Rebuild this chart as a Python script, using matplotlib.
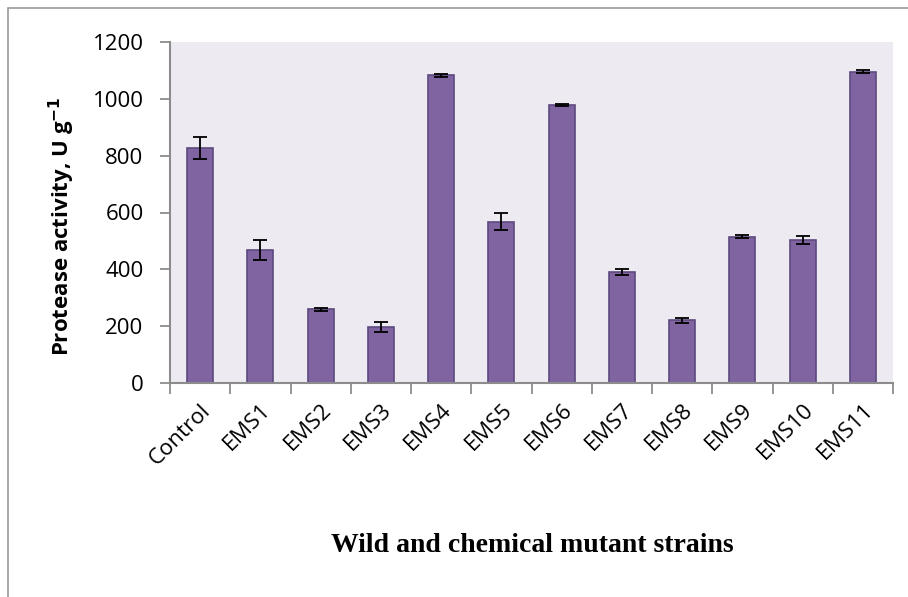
import numpy as np
import matplotlib.pyplot as plt
from matplotlib.patches import Rectangle

# data
strains = ["Control", "EMS1", "EMS2", "EMS3", "EMS4", "EMS5",
           "EMS6", "EMS7", "EMS8", "EMS9", "EMS10", "EMS11"]
activity = [828, 468, 260, 198, 1083, 567, 978, 390, 220, 515, 502, 1095]
errors = [39, 35, 5, 17, 6, 30, 4, 10, 8, 5, 14, 5]

fig = plt.figure(figsize=(9.08, 5.97), dpi=100)
fig.patch.set_facecolor("white")

# outer chart frame (only left/top visible in the reference)
fig.patches.append(Rectangle((8 / 908, -0.1), 1.2, 1 - 8 / 597 + 0.1,
                             transform=fig.transFigure, fill=False,
                             edgecolor="#9a9a9a", linewidth=1.2))

ax = fig.add_axes([170 / 908, 1 - 383 / 597, 723 / 908, 341 / 597])
ax.set_facecolor("#EDEAF1")

x = np.arange(len(strains))
ax.bar(x, activity, width=0.43, color="#8064A2", edgecolor="#5E4A7E",
       linewidth=1.2, zorder=2)
ax.errorbar(x, activity, yerr=errors, fmt="none", ecolor="black",
            elinewidth=1.3, capsize=5, capthick=1.3, zorder=3)

ax.set_xlim(-0.5, len(strains) - 0.5)
ax.set_ylim(0, 1200)
ax.set_yticks(np.arange(0, 1201, 200))

for s in ["top", "right"]:
    ax.spines[s].set_visible(False)
for s in ["left", "bottom"]:
    ax.spines[s].set_color("#8c8c8c")
    ax.spines[s].set_linewidth(1.5)

ax.tick_params(axis="y", length=7, width=1.3, color="#8c8c8c",
               labelsize=16, pad=12)
ax.set_xticks(np.arange(-0.5, len(strains), 1.0))
ax.set_xticklabels([])
ax.tick_params(axis="x", which="major", length=8, width=1.3,
               color="#8c8c8c")
ax.set_xticks(x, minor=True)
ax.set_xticklabels(strains, minor=True, rotation=45, ha="right",
                   rotation_mode="anchor", fontsize=16)
ax.tick_params(axis="x", which="minor", length=0, pad=12)
for lab in ax.get_yticklabels() + ax.get_xticklabels(minor=True):
    lab.set_fontfamily("Open Sans")

ax.set_ylabel("Protease activity, U g$^{\\mathbf{-1}}$", fontsize=16,
              fontweight="bold", fontfamily="Open Sans")
ax.yaxis.set_label_coords(-0.128, 0.46)
fig.text(532 / 908, 1 - 546 / 597, "Wild and chemical mutant strains",
         ha="center", va="center", fontsize=20, fontweight="bold",
         fontfamily="Liberation Serif")

fig.savefig("out.png", dpi=100)
